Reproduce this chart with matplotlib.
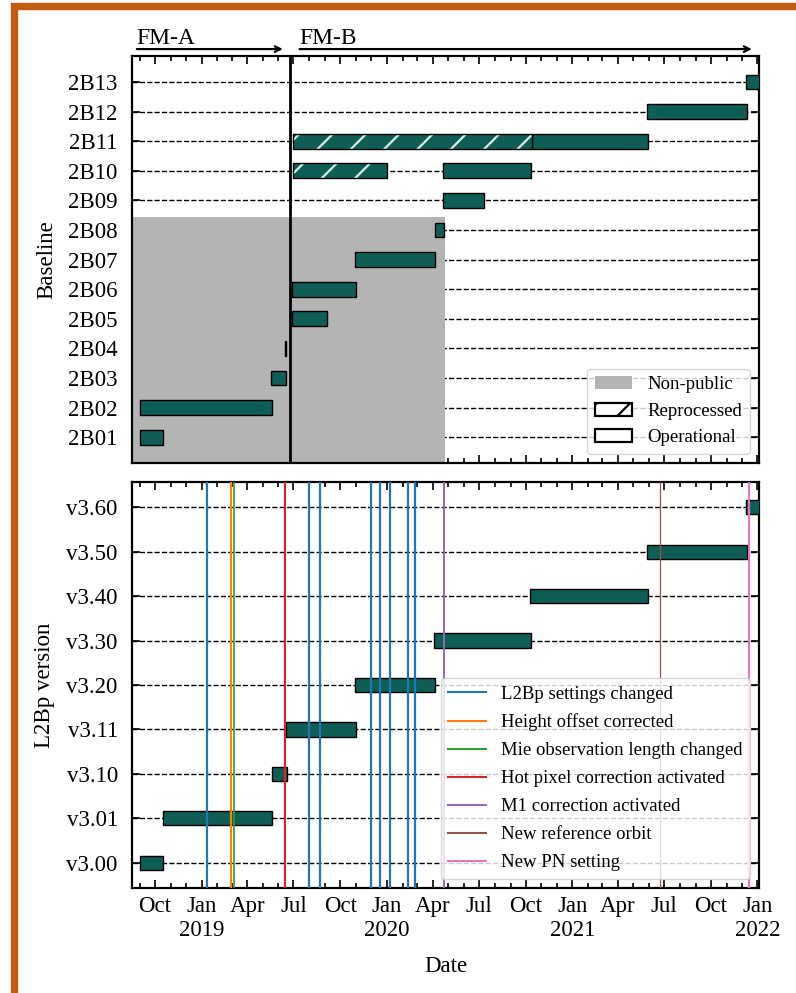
import matplotlib
matplotlib.use("Agg")
import matplotlib.pyplot as plt
import matplotlib.dates as mdates
import pandas as pd
from matplotlib.patches import Patch, Rectangle
from matplotlib.ticker import FuncFormatter

plt.rcParams["font.family"] = "serif"
plt.rcParams["font.serif"] = ["Liberation Serif", "DejaVu Serif"]
plt.rcParams["hatch.linewidth"] = 1.6

# --- processor baselines (operational periods) ---
baselines = ["2B01", "2B02", "2B03", "2B04", "2B05", "2B06", "2B07",
             "2B08", "2B09", "2B10", "2B11", "2B12", "2B13"]
base_start = ["2018-09-01", "2018-09-02", "2019-05-17", "2019-06-15",
              "2019-06-28", "2019-06-28", "2019-10-31", "2020-04-05",
              "2020-04-21", "2020-04-21", "2020-10-13", "2021-05-29",
              "2021-12-10"]
base_end = ["2018-10-17", "2019-05-19", "2019-06-16", "2019-06-16",
            "2019-09-06", "2019-11-01", "2020-04-05", "2020-04-22",
            "2020-07-11", "2020-10-11", "2021-05-30", "2021-12-11",
            "2022-01-31"]

# reprocessed periods
reproc_rows = ["2B10", "2B11"]
reproc_start = ["2019-06-30", "2019-06-30"]
reproc_end = ["2020-01-02", "2020-10-13"]

nonpublic_end = "2020-04-24"
nonpublic_last = "2B08"

# laser periods
lasers = ["FM-A", "FM-B"]
laser_start = ["2018-08-26", "2019-07-13"]
laser_end = ["2019-06-10", "2021-12-21"]
fmb_switch = "2019-06-24"

# --- L2Bp processor versions ---
versions = ["v3.00", "v3.01", "v3.10", "v3.11", "v3.20", "v3.30",
            "v3.40", "v3.50", "v3.60"]
ver_start = ["2018-09-01", "2018-10-17", "2019-05-20", "2019-06-17",
             "2019-10-31", "2020-04-04", "2020-10-10", "2021-05-29",
             "2021-12-10"]
ver_end = ["2018-10-17", "2019-05-20", "2019-06-19", "2019-11-01",
           "2020-04-05", "2020-10-12", "2021-05-30", "2021-12-11",
           "2022-01-31"]

# events
settings_dates = ["2019-01-11", "2019-08-01", "2019-08-22", "2019-11-30",
                  "2019-12-18", "2020-01-08", "2020-02-11", "2020-02-26"]
height_dates = ["2019-02-27"]
mie_dates = ["2019-03-06"]
hotpix_dates = ["2019-06-15"]
m1_dates = ["2020-04-23"]
orbit_dates = ["2021-06-22"]
pn_dates = ["2021-12-16"]

x_range = ["2018-08-16", "2022-01-04"]

teal = "#0f5e55"
d = lambda s: mdates.date2num(pd.to_datetime(s))


def style_axis(ax):
    ax.xaxis.set_major_locator(mdates.MonthLocator(bymonth=[1, 4, 7, 10]))
    ax.xaxis.set_minor_locator(mdates.MonthLocator())
    ax.tick_params(which="both", direction="in", top=True, right=True,
                   labelsize=16.5, width=1.2)
    ax.tick_params(which="major", length=6)
    ax.tick_params(which="minor", length=3.5)
    ax.tick_params(axis="y", which="major", pad=10)
    ax.tick_params(axis="x", which="major", pad=5.5)
    for sp in ax.spines.values():
        sp.set_linewidth(1.6)
    ax.grid(axis="y", linestyle="--", color="black", lw=1.0, zorder=0)
    ax.set_axisbelow(True)


def month_label(x, pos):
    t = mdates.num2date(x)
    if t.month == 1:
        return t.strftime("%b\n%Y")
    return t.strftime("%b")


fig = plt.figure(figsize=(7.96, 9.93), dpi=100)
ax1 = fig.add_axes([0.1655, 0.5337, 0.788, 0.4099])
ax2 = fig.add_axes([0.1655, 0.1054, 0.788, 0.4095], sharex=ax1)

# top panel: baselines
ypos = list(range(len(baselines)))
starts = [d(s) for s in base_start]
widths = [d(e) - d(s) for s, e in zip(base_start, base_end)]
ax1.barh(ypos, widths, left=starts, height=0.5, color=teal,
         edgecolor="black", lw=1.0, zorder=3)

r_y = [baselines.index(r) for r in reproc_rows]
r_left = [d(s) for s in reproc_start]
r_w = [d(e) - d(s) for s, e in zip(reproc_start, reproc_end)]
ax1.barh(r_y, r_w, left=r_left, height=0.5, color=teal, edgecolor="#d8f0ea",
         hatch="/", lw=0, zorder=3)
ax1.barh(r_y, r_w, left=r_left, height=0.5, fill=False, edgecolor="black",
         lw=1.0, zorder=4)

ax1.set_xlim(d(x_range[0]), d(x_range[1]))
ylo, yhi = ax1.get_ylim()
gray_top = baselines.index(nonpublic_last) + 0.45
ax1.fill_between([d(x_range[0]), d(nonpublic_end)], ylo, gray_top,
                 color="#b4b4b4", lw=0, zorder=1)
ax1.set_ylim(ylo, yhi)
ax1.axvline(d(fmb_switch), color="black", lw=2.0, zorder=5)

ax1.set_yticks(ypos)
ax1.set_yticklabels(baselines)
ax1.set_ylabel("Baseline", fontsize=16.5, labelpad=8)
style_axis(ax1)
ax1.tick_params(labelbottom=False)

for name, s, e in zip(lasers, laser_start, laser_end):
    ax1.annotate("", xy=(d(e), 1.017), xytext=(d(s), 1.017),
                 xycoords=("data", "axes fraction"),
                 arrowprops=dict(arrowstyle="->", lw=1.6, color="black",
                                 shrinkA=0, shrinkB=0),
                 annotation_clip=False)
    ax1.annotate(name, xy=(d(s), 1.03), xycoords=("data", "axes fraction"),
                 ha="left", va="baseline", fontsize=17,
                 annotation_clip=False)

handles = [
    Patch(facecolor="#b4b4b4", label="Non-public"),
    Patch(facecolor="white", edgecolor="black", hatch="/", lw=1.6,
          label="Reprocessed"),
    Patch(facecolor="white", edgecolor="black", lw=1.6, label="Operational"),
]
ax1.legend(handles=handles, loc="lower right", fontsize=13.5)

# bottom panel: processor versions
vpos = list(range(len(versions)))
ax2.barh(vpos, [d(e) - d(s) for s, e in zip(ver_start, ver_end)],
         left=[d(s) for s in ver_start], height=0.32, color=teal,
         edgecolor="black", lw=1.0, zorder=3)

events = [
    ("L2Bp settings changed", settings_dates, "tab:blue", 1.6),
    ("Height offset corrected", height_dates, "tab:orange", 1.6),
    ("Mie observation length changed", mie_dates, "tab:green", 1.2),
    ("Hot pixel correction activated", hotpix_dates, "tab:red", 1.6),
    ("M1 correction activated", m1_dates, "tab:purple", 1.4),
    ("New reference orbit", orbit_dates, "tab:brown", 0.9),
    ("New PN setting", pn_dates, "tab:pink", 1.6),
]
for label, dates, col, lw in events:
    for i, t in enumerate(dates):
        ax2.axvline(d(t), color=col, lw=lw, zorder=4,
                    label=label if i == 0 else None)

ax2.set_yticks(vpos)
ax2.set_yticklabels(versions)
ax2.set_ylabel("L2Bp version", fontsize=16.5, labelpad=8)
ax2.set_xlabel("Date", fontsize=16.5, labelpad=10.5)
style_axis(ax2)
ax2.xaxis.set_major_formatter(FuncFormatter(month_label))
ax2.set_xlim(d(x_range[0]), d(x_range[1]))
leg = ax2.legend(loc="lower right", fontsize=13.5, labelspacing=0.58)
for line in leg.get_lines():
    line.set_linewidth(1.5)

# frame around the figure
fig.patches.append(Rectangle((0.0138, 0.0), 0.0075, 0.99, color="#c55a11",
                             transform=fig.transFigure, figure=fig))
fig.patches.append(Rectangle((0.0138, 0.9906), 0.9862, 0.0065,
                             color="#c55a11", transform=fig.transFigure,
                             figure=fig))

fig.savefig("out.png", dpi=100)
